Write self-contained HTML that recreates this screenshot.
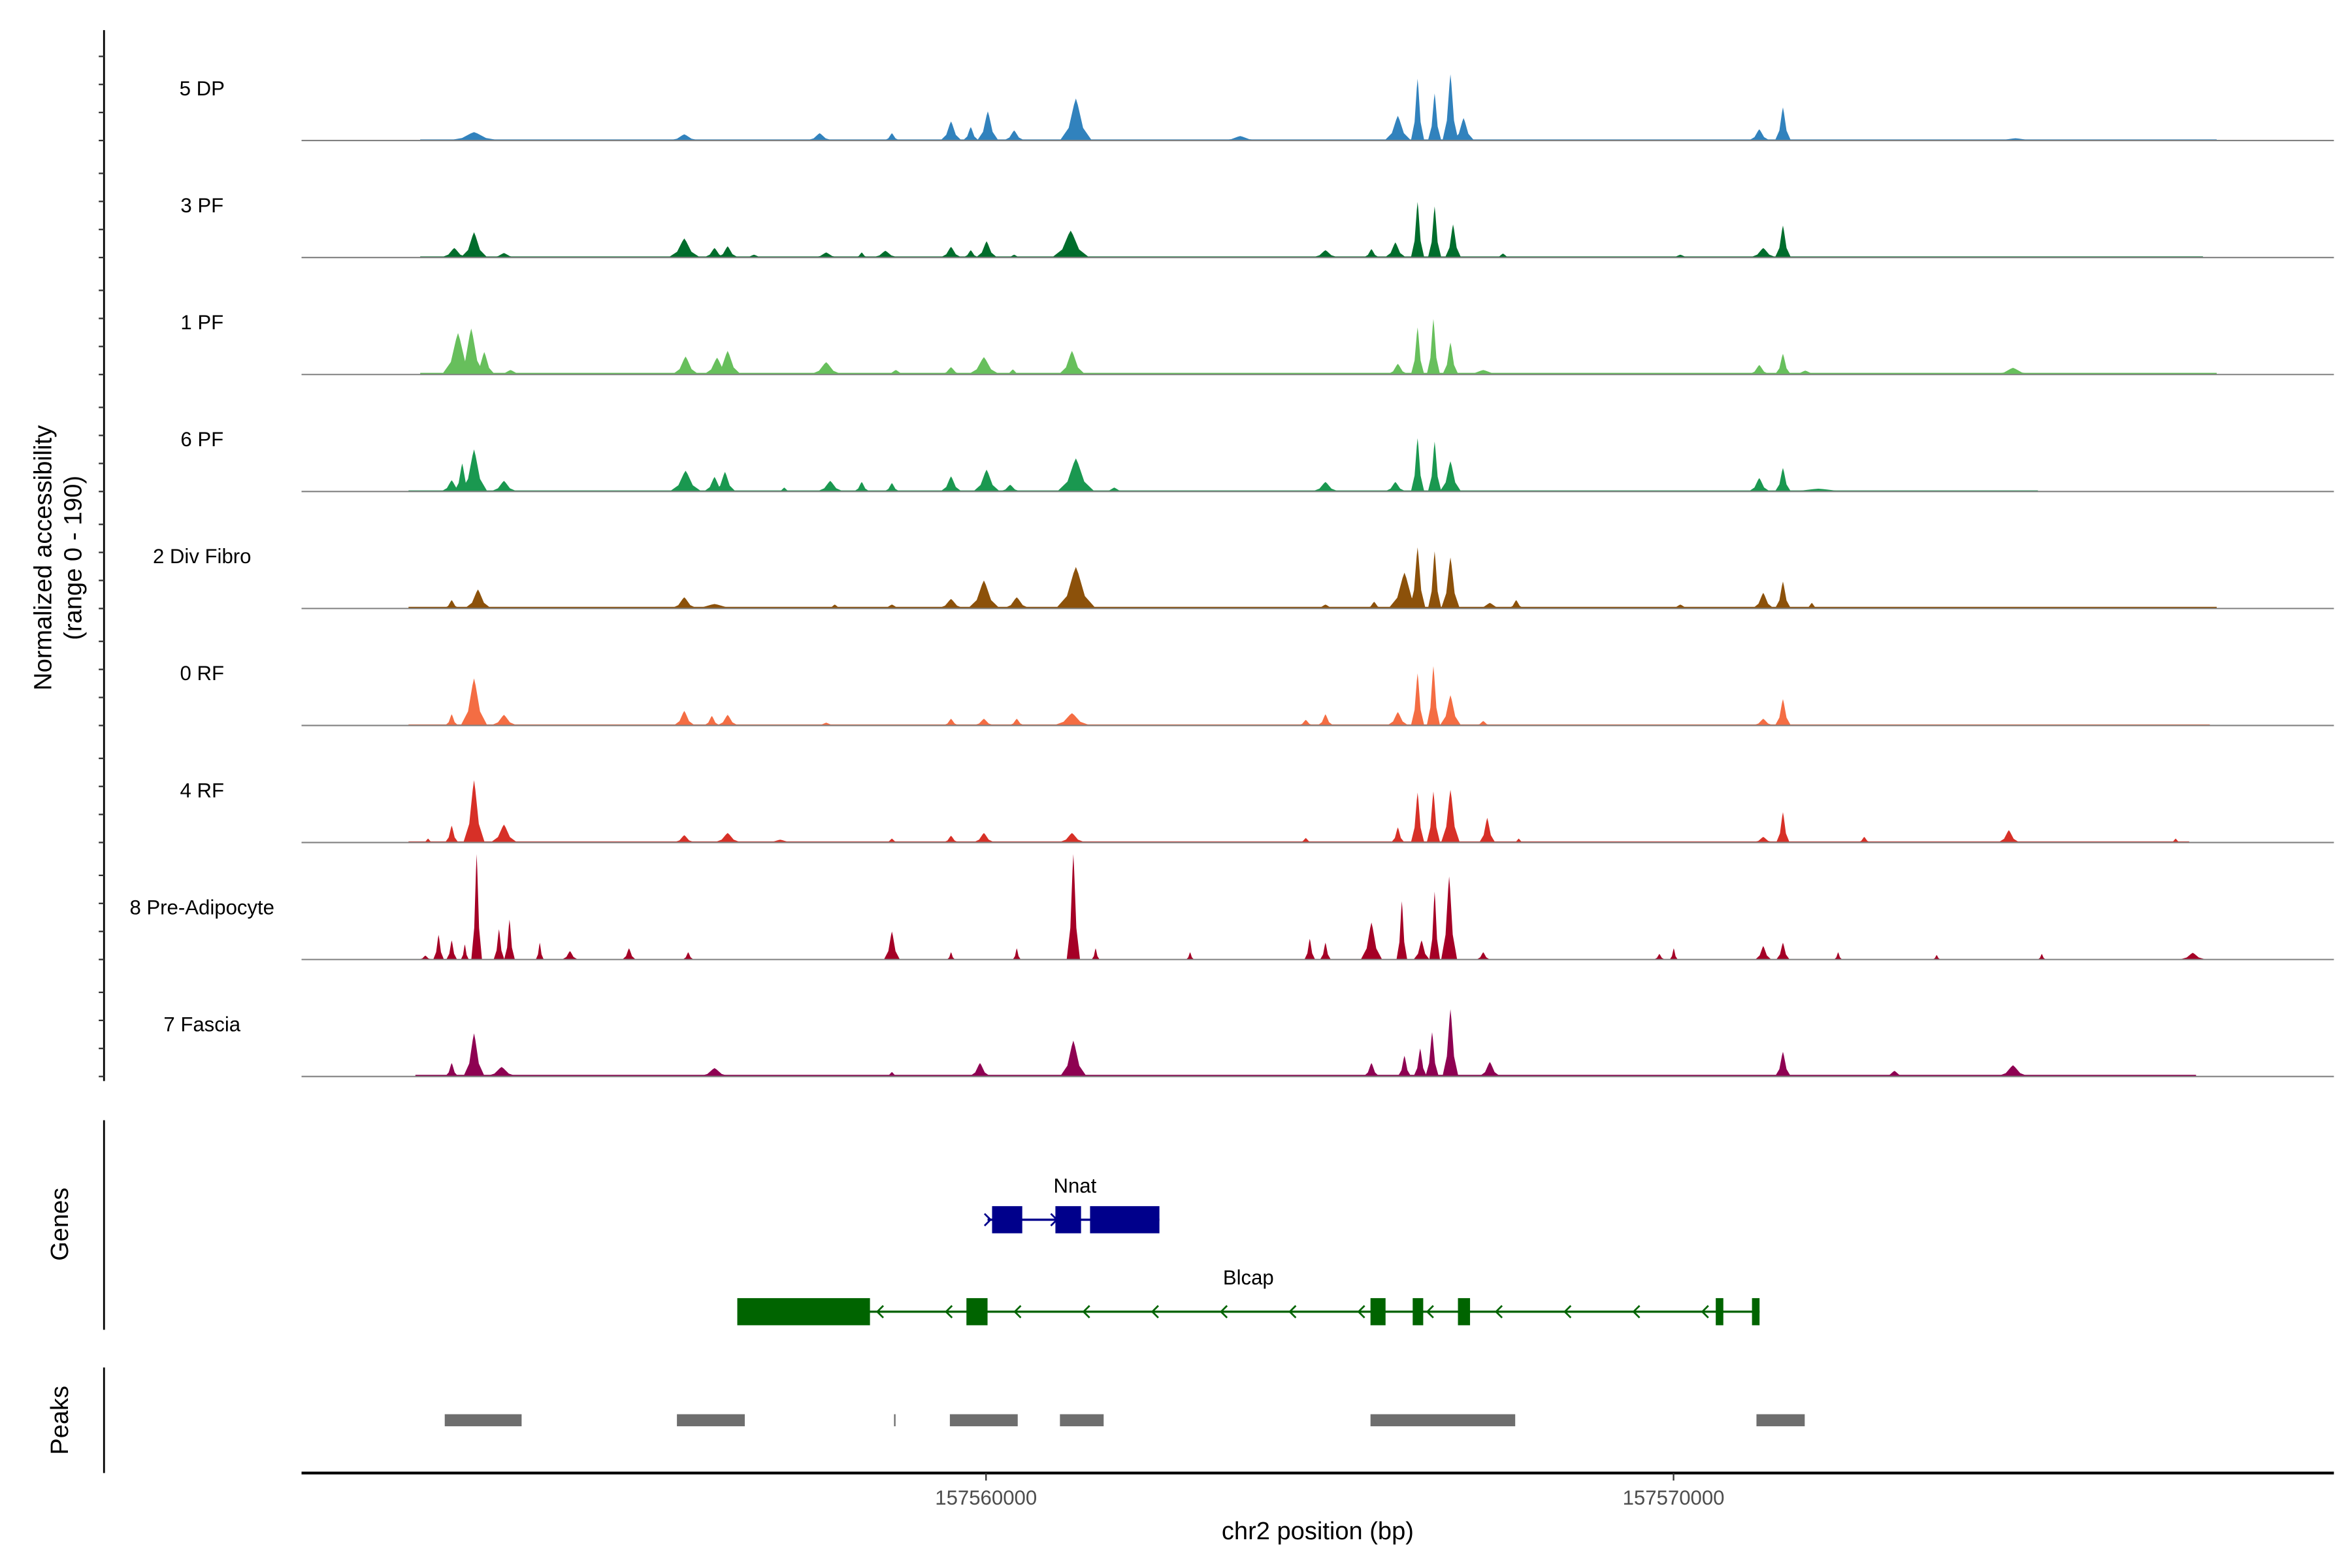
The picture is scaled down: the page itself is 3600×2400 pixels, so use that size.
<!DOCTYPE html>
<html><head><meta charset="utf-8"><style>
html,body{margin:0;padding:0;background:#fff;}
svg{display:block;font-family:"Liberation Sans",Arial,sans-serif;}
</style></head><body>
<svg id="chart" width="3600" height="2400" viewBox="0 0 1560 1040" preserveAspectRatio="none" xmlns="http://www.w3.org/2000/svg">
<rect x="0" y="0" width="1560" height="1040" fill="#fff"/>
<g id="tracks"></g>
<g id="leftaxis"></g>
<text transform="translate(34,370) rotate(-90)" text-anchor="middle" font-size="16.5" fill="#000">Normalized accessibility</text>
<text transform="translate(54,370) rotate(-90)" text-anchor="middle" font-size="16.5" fill="#000">(range 0 - 190)</text>
<line x1="69" y1="743" x2="69" y2="882" stroke="#000" stroke-width="1.2"/>
<text transform="translate(45,812) rotate(-90)" text-anchor="middle" font-size="16.5" fill="#000">Genes</text>
<g id="genes"></g>
<line x1="69" y1="907" x2="69" y2="977" stroke="#000" stroke-width="1.2"/>
<text transform="translate(45,942) rotate(-90)" text-anchor="middle" font-size="16.5" fill="#000">Peaks</text>
<g id="peaks"></g>
<g id="xaxis"></g>
<text x="874" y="1021" text-anchor="middle" font-size="16.5" fill="#000">chr2 position (bp)</text>
</svg>
<script>
const trackNames = ["5 DP","3 PF","1 PF","6 PF","2 Div Fibro","0 RF","4 RF","8 Pre-Adipocyte","7 Fascia"];
const trackColors = ["#3182bd","#006d2c","#67bf5c","#1a9850","#8c510a","#f46d43","#d73027","#a50026","#8e0152"];
const xTicks = [157560000,157570000];
const yTickVals = [0,50,100,150];

const dpPos=[157552553,157555611,157557580,157558631,157559491,157559778,157560026,157560409,157561307,157563697,157565990,157566277,157566525,157566755,157566946,157571247,157571591,157574974];
const dpVal=[15,11,13,13,34,24,52,18,75,8,44,110,84,118,40,20,59,4];
const dpHw=[388,233,194,116,155,116,155,155,233,291,194,97,97,116,155,155,116,388];

const pf3Pos=[157552266,157552553,157552988,157555611,157556051,157556242,157556625,157557675,157558192,157558536,157559491,157559778,157560008,157560409,157561231,157564937,157565606,157565954,157566277,157566525,157566793,157567519,157570099,157571305,157571591];
const pf3Val=[17,45,8,34,17,20,5,9,9,12,19,13,29,5,48,13,15,27,99,91,59,7,5,17,57];
const pf3Hw=[194,194,194,233,155,155,155,194,97,194,155,116,155,116,272,194,116,155,97,97,116,116,155,194,116];

const pf1Pos=[157552320,157552512,157552702,157553084,157555630,157556088,157556242,157557675,157558688,157559491,157559969,157560390,157561250,157565990,157566277,157566507,157566755,157567232,157571247,157571591,157571916,157574937];
const pf1Val=[74,82,40,8,32,30,42,22,8,13,31,9,42,19,84,99,57,8,17,37,7,12];
const pf1Hw=[233,194,155,194,194,194,194,233,155,155,233,116,194,155,97,97,116,291,155,116,194,291];

const pf6Pos=[157552228,157552381,157552553,157552988,157555630,157556051,157556203,157557065,157557734,157558192,157558631,157559491,157560008,157560351,157561307,157561865,157564937,157565954,157566277,157566525,157566755,157571247,157571591,157572107];
const pf6Val=[20,50,75,19,37,26,35,7,19,17,15,27,39,12,59,7,17,17,95,89,54,24,42,5];
const pf6Hw=[155,116,194,194,233,155,155,97,194,116,116,155,194,155,272,155,194,155,97,97,155,155,116,582];

const dfPos=[157552228,157552610,157555611,157556051,157557800,157558631,157559491,157559969,157560447,157561307,157564937,157565645,157566086,157566277,157566525,157566755,157567328,157567711,157570099,157571305,157571591,157572011];
const dfVal=[15,34,20,8,7,7,17,50,20,74,7,12,64,109,102,91,10,15,7,28,48,10];
const dfHw=[116,194,194,388,116,155,194,233,194,291,155,116,233,116,97,136,194,116,155,155,116,97];

const rf0Pos=[157552228,157552553,157552988,157555611,157556012,157556242,157557675,157559491,157559969,157560447,157561250,157564651,157564937,157565990,157566277,157566507,157566755,157567232,157571305,157571591];
const rf0Val=[20,84,19,26,17,19,5,12,12,12,22,10,20,24,93,106,54,8,12,47];
const rf0Hw=[97,194,194,155,116,155,155,116,155,116,272,116,116,155,97,97,155,116,155,116];

const rf4Pos=[157551884,157552228,157552553,157552988,157555611,157556242,157557006,157558631,157559491,157559969,157561250,157564651,157565990,157566277,157566507,157566755,157567290,157567748,157571305,157571591,157572774,157574877,157577303];
const rf4Val=[7,30,111,32,13,17,5,7,12,17,17,8,27,89,91,94,44,7,10,54,10,22,7];
const rf4Hw=[78,97,155,194,155,194,233,97,116,155,194,97,97,97,97,136,116,78,155,97,97,155,78];

const paPos=[157551845,157552037,157552228,157552419,157552591,157552916,157553069,157553509,157553948,157554807,157555668,157558631,157559491,157560447,157561270,157561594,157562968,157564709,157564937,157565606,157566048,157566335,157566525,157566736,157567232,157569794,157570003,157571305,157571591,157572394,157573827,157575356,157577552];
const paVal=[7,44,34,27,188,54,71,30,15,20,13,50,13,20,188,20,13,37,30,66,104,34,121,148,13,10,20,24,30,13,8,10,12];
const paHw=[97,78,78,58,78,78,78,58,116,97,78,116,58,58,97,58,58,78,78,155,78,116,78,116,97,78,58,116,97,58,58,58,194];

const faPos=[157552228,157552553,157552954,157556051,157558631,157559912,157561270,157565606,157566086,157566315,157566488,157566755,157567328,157571591,157573213,157574937];
const faVal=[24,77,17,15,8,24,64,24,37,50,79,120,26,44,10,20];
const faHw=[97,155,233,233,97,155,194,116,97,97,97,116,155,116,155,233];

const floorStart=[157551770,157551770,157551770,157551600,157551600,157551600,157551600,157551700,157551700];
const floorEnd=[157577900,157577700,157577900,157575300,157577900,157577800,157577500,157577600,157577600];
const floorVal=[2,2,3,2,3,2,2,0,3];

const allPos=[dpPos,pf3Pos,pf1Pos,pf6Pos,dfPos,rf0Pos,rf4Pos,paPos,faPos];
const allVal=[dpVal,pf3Val,pf1Val,pf6Val,dfVal,rf0Val,rf4Val,paVal,faVal];
const allHw=[dpHw,pf3Hw,pf1Hw,pf6Hw,dfHw,rf0Hw,rf4Hw,paHw,faHw];

const nnatExonStart=[157560088,157561009,157561513];
const nnatExonEnd=[157560527,157561382,157562522];
const blcapExonStart=[157556382,157559715,157565592,157566206,157566864,157570614,157571141];
const blcapExonEnd=[157558312,157560022,157565811,157566359,157567040,157570724,157571251];
const peakStart=[157552127,157555504,157558662,157559474,157561075,157565592,157571206];
const peakEnd=[157553245,157556491,157558684,157560461,157561711,157567697,157571908];

const NS="http://www.w3.org/2000/svg";
const X0=200,X1=1548,BP0=157550044,BP1=157579605;
function xs(bp){return X0+(bp-BP0)/(BP1-BP0)*(X1-X0);}
const TRACK_TOP=93.2, TRACK_STEP=77.6, UNIT=0.372;
function baseY(i){return TRACK_TOP+i*TRACK_STEP;}
function ys(i,v){return baseY(i)-v*UNIT;}
function mk(tag,attrs,parent){const e=document.createElementNS(NS,tag);for(const k in attrs)e.setAttribute(k,attrs[k]);parent.appendChild(e);return e;}

const gT=document.getElementById('tracks');
for(let i=0;i<trackNames.length;i++){
  const g=mk('g',{},gT);
  
  
  const lab=mk('text',{x:134,y:baseY(i)-30,'text-anchor':'middle','font-size':13.5,fill:'#000'},g);
  lab.textContent=trackNames[i];
  
  
  if(floorVal[i]>0){
    const f=mk('rect',{x:xs(floorStart[i]),y:ys(i,floorVal[i]),width:xs(floorEnd[i])-xs(floorStart[i]),height:floorVal[i]*UNIT,fill:trackColors[i]},g);
    
    
  }
  const P=allPos[i],V=allVal[i],H=allHw[i];
  for(let j=0;j<P.length;j++){
    const c=P[j],h=V[j],w=H[j],b=baseY(i);
    const pts=[[xs(c-w),b],[xs(c-w*0.45),ys(i,h*0.3)],[xs(c-w*0.12),ys(i,h*0.85)],[xs(c),ys(i,h)],[xs(c+w*0.12),ys(i,h*0.85)],[xs(c+w*0.45),ys(i,h*0.3)],[xs(c+w),b]];
    const p=mk('polygon',{points:pts.map(q=>q[0].toFixed(2)+','+q[1].toFixed(2)).join(' '),fill:trackColors[i]},g);
    
    
  }
  const bl=mk('line',{x1:X0,x2:X1,y1:baseY(i),y2:baseY(i),stroke:'#808080','stroke-width':0.9},g);
  
  
}

const gL=document.getElementById('leftaxis');
const al=mk('line',{x1:69,y1:20,x2:69,y2:717,stroke:'#000','stroke-width':1.2},gL);


for(let i=0;i<trackNames.length;i++){
  for(const v of yTickVals){
    const t=mk('line',{x1:65.5,x2:69,y1:ys(i,v),y2:ys(i,v),stroke:'#333','stroke-width':1},gL);
    
    
  }
}

const gG=document.getElementById('genes');
const nl=mk('line',{x1:xs(157560022),x2:xs(nnatExonEnd[2]),y1:809,y2:809,stroke:'#00008b','stroke-width':1.5},gG);


const nc=mk('path',{d:'M653,805 L657,809 L653,813 M697,805 L701,809 L697,813',stroke:'#00008b','stroke-width':1.2,fill:'none'},gG);


for(let j=0;j<nnatExonStart.length;j++){
  const r=mk('rect',{x:xs(nnatExonStart[j]),y:800,width:xs(nnatExonEnd[j])-xs(nnatExonStart[j]),height:18,fill:'#00008b'},gG);
  
  
}
const nt=mk('text',{x:713,y:791,'text-anchor':'middle','font-size':13.5,fill:'#000'},gG);
nt.textContent='Nnat';


const bl2=mk('line',{x1:xs(blcapExonStart[0]),x2:xs(blcapExonEnd[6]),y1:870,y2:870,stroke:'#006400','stroke-width':1.5},gG);


let d='';
for(let bp=157558440;bp<157571000;bp+=1000){const x=xs(bp);d+=`M${x+3},866 L${x-1},870 L${x+3},874 `;}
const bc=mk('path',{d:d,stroke:'#006400','stroke-width':1.2,fill:'none'},gG);


for(let j=0;j<blcapExonStart.length;j++){
  const r=mk('rect',{x:xs(blcapExonStart[j]),y:861,width:xs(blcapExonEnd[j])-xs(blcapExonStart[j]),height:18,fill:'#006400'},gG);
  
  
}
const bt=mk('text',{x:828,y:852,'text-anchor':'middle','font-size':13.5,fill:'#000'},gG);
bt.textContent='Blcap';



const gP=document.getElementById('peaks');
for(let j=0;j<peakStart.length;j++){
  const w=Math.max(1,xs(peakEnd[j])-xs(peakStart[j]));
  const r=mk('rect',{x:xs(peakStart[j]),y:938,width:w,height:8,fill:'#6e6e6e'},gP);
  
  
}

const gX=document.getElementById('xaxis');
const xl=mk('line',{x1:X0,x2:X1,y1:977,y2:977,stroke:'#000','stroke-width':1.8},gX);


for(const t of xTicks){
  const tk=mk('line',{x1:xs(t),x2:xs(t),y1:977,y2:982,stroke:'#333','stroke-width':1},gX);
  
  
  const tl=mk('text',{x:xs(t),y:998,'text-anchor':'middle','font-size':13.5,fill:'#4d4d4d'},gX);
  tl.textContent=String(t);
  
  
}
</script>
</body></html>
